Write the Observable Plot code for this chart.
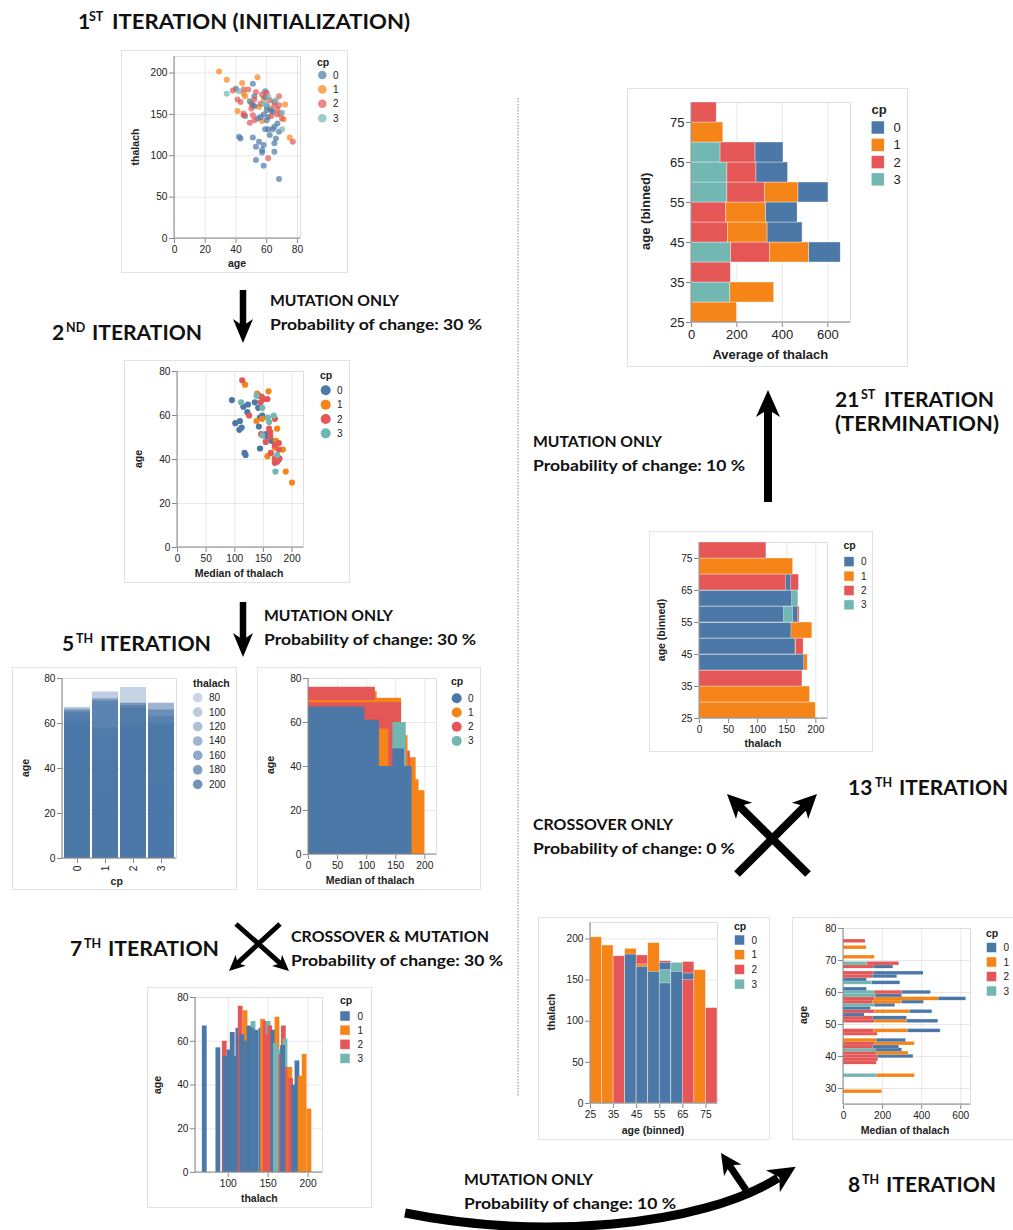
<!DOCTYPE html>
<html>
<head>
<meta charset="utf-8">
<script src="https://cdn.jsdelivr.net/npm/d3@7"></script>
<script src="https://cdn.jsdelivr.net/npm/@observablehq/plot@0.6"></script>
<style>
  html, body { margin: 0; padding: 0; background: #fff; }
  #root { position: relative; width: 1013px; height: 1230px; overflow: hidden; background: #fff; }
  .panel { position: absolute; box-sizing: border-box; border: 1px solid #e2e2e2; background: #fff; }
  g[aria-label$="-axis tick"] { stroke: #888; }
  g[aria-label="x-axis"] .tick line, g[aria-label="y-axis"] .tick line { stroke: #888; }
</style>
</head>
<body>
<div id="root"></div>
<script>
// ---------- shared categories ----------
const CP = ["0", "1", "2", "3"];
const CP_COLORS = ["#4c78a8", "#f58518", "#e45756", "#72b7b2"];
const BIN = 5;

// ---------- 1st iteration: age vs thalach scatter ----------
const it1Age = [29,34,54,44,45,46,41,55,58,57,62,50,72,71,75,
  51,40,49,51,52,46,54,56,59,60,58,60,59,61,65,64,67,68,66,62,65,55,53,57,57,58,51,42,43,53,58,65,68,65,63,64,60,61,52,59,
  38,41,48,45,53,52,43,45,45,49,51,52,57,61,68,68,65,67,69,70,77,62,56,67,63,50,60,
  34,42,61,58,60,70,66,70];
const it1Thalach = [202,192,195,188,175,172,154,159,169,142,157,163,162,144,122,
  187,181,166,161,160,148,145,147,171,155,150,143,132,132,135,132,139,129,121,125,115,117,111,107,104,113,122,123,121,95,88,105,72,165,155,153,160,147,172,178,
  179,168,180,180,177,168,165,151,149,140,149,143,174,97,172,161,161,156,151,145,117,167,163,150,148,157,176,
  175,178,171,163,162,132,167,152];
const it1Cp = [1,1,1,1,1,1,1,1,1,1,1,1,1,1,1,
  0,0,0,0,0,0,0,0,0,0,0,0,0,0,0,0,0,0,0,0,0,0,0,0,0,0,0,0,0,0,0,0,0,0,0,0,0,0,0,0,
  2,2,2,2,2,2,2,2,2,2,2,2,2,2,2,2,2,2,2,2,2,2,2,2,2,2,2,
  3,3,3,3,3,3,3,3];
const it1AgeTicks = [0, 20, 40, 60, 80];
const it1ThalachTicks = [0, 50, 100, 150, 200];

// ---------- 2nd iteration: median thalach vs age ----------
const it2Thalach = [95,123,115,122,135,101,109,112,108,117,119,144,141,144,142,148,155,158,161,151,164,177,
  118,139,159,138,148,174,172,170,184,157,189,200,
  113,125,142,147,150,145,157,170,160,162,146,154,162,177,170,177,163,170,174,178,170,
  111,138,148,158,160,168,148,174,171];
const it2Age = [67,65,64,61.5,66,56.5,57.5,54.5,53.5,43,42,45,63.5,59,55,60,51.5,50.5,52,51,48.5,40,
  74,70,71,57.5,58.5,54,48.5,45.5,44.5,41.5,34.5,29.5,
  76,60,69,68.5,67.5,66,67.5,58.5,54,52.5,51.5,48,50.5,47.5,46.5,44.5,43,40.5,39,40.5,38.5,
  66,69,63.5,59,57,60,51,42,34.5];
const it2Cp = [0,0,0,0,0,0,0,0,0,0,0,0,0,0,0,0,0,0,0,0,0,0,
  1,1,1,1,1,1,1,1,1,1,1,1,
  2,2,2,2,2,2,2,2,2,2,2,2,2,2,2,2,2,2,2,2,2,
  3,3,3,3,3,3,3,3,3];
const it2ThalachTicks = [0, 50, 100, 150, 200];
const it2AgeTicks = [0, 20, 40, 60, 80];

// ---------- 5th iteration (left): age by cp, opacity by thalach ----------
const it5aCp = [0,0,0,0,0,0,0,0, 1,1,1,1,1,1,1, 2,2,2,2,2,2,2, 3,3,3,3,3,3];
const it5aAge = [67,66,65,63,61,58,55,45, 74,71,70,58,54,44,29, 76,69,68,67,60,58,41, 69,66,63,60,59,34];
const it5aThalach = [125,160,175,150,190,140,170,180, 95,140,175,150,180,190,200, 85,165,150,170,160,180,175, 140,160,150,170,180,175];
const it5aLegendThalach = [80, 100, 120, 140, 160, 180, 200];
const it5aAgeTicks = [0, 20, 40, 60, 80];

// ---------- 5th iteration (right): median thalach vs age, filled from origin ----------
const it5bThalach = [200,190,185,175,171,160,118,115,147,160,168,165,145,138,178,122,97];
const it5bAge =     [29, 34, 44, 47, 54, 71, 74, 76, 70, 69, 60, 48, 61, 57, 40, 61, 67];
const it5bCp =      [1,  1,  1,  2,  1,  1,  1,  2,  1,  2,  3,  0,  2,  1,  0,  0,  0];
const it5bThalachTicks = [0, 50, 100, 150, 200];
const it5bAgeTicks = [0, 20, 40, 60, 80];

// ---------- 7th iteration: thalach vs age bars ----------
const it7Thalach = [70,87,95,96,101,105,109,112,115,121,117,123,126,131,129,135,141,143,146,150,152,148,156,161,159,163,166,169,171,168,174,177,178,182,186,190,195,201];
const it7Age =     [67,57,60,53,56, 64, 53, 66, 76, 74, 63, 60, 67, 69, 66, 65, 66, 70, 69, 69, 67, 63, 65, 71, 59, 56, 54, 67, 61, 58, 48, 48, 43, 40, 51, 44, 54, 29];
const it7Cp =      [0, 0, 2, 0, 0,  0,  0,  0,  2,  1,  0,  0,  0,  3,  0,  0,  0,  1,  2,  3,  2,  2,  0,  1,  3,  3,  2,  2,  3,  0,  2,  1,  2,  0,  0,  1,  1,  1];
const it7ThalachTicks = [100, 150, 200];
const it7AgeTicks = [0, 20, 40, 60, 80];

// ---------- 8th iteration (left): thalach by age bin ----------
const it8aBin =     [25, 30, 35, 40, 40, 45, 45, 45, 50, 50, 55, 55, 55, 55, 60, 60, 65, 65, 65, 70, 75];
const it8aThalach = [202,192,179,188,181,180,169,166,195,160,173,171,162,146,171,160,172,158,150,162,116];
const it8aCp =      [1,  1,  2,  1,  0,  2,  1,  0,  1,  0,  2,  0,  3,  0,  3,  0,  2,  0,  2,  1,  2];
const it8aBinTicks = [25, 35, 45, 55, 65, 75];
const it8aThalachTicks = [0, 50, 100, 150, 200];

// ---------- 8th iteration (right): median thalach per age, stacked by cp ----------
const it8bAge =    [29, 34,34, 38, 39, 40,40, 41,41, 42,42, 43,43, 44,44, 45,45, 47, 48,48,48, 51,51,51, 52,52, 53, 54,54,54, 55, 56,56, 57,57,57, 58,58,58, 59,59, 60,60,60, 61, 63,63, 64, 65,65, 66,66, 68,68, 69,69, 71, 74, 76];
const it8bCp =     [1,  3,1,  2,  2,  2,0,  2,1,  3,0,  2,0,  2,1,  1,0,  2,  2,1,0,  2,1,0,  2,0,  0,  2,1,0,  0,  3,0,  2,1,0,  2,1,0,  3,0,  3,2,0,  0,  3,0,  0,  2,0,  2,0,  2,0,  3,2,  1,  1,  2];
const it8bMedian = [198,170,195,170,178,175,183,170,163,165,135,150,135,160,205,170,150,175,155,175,167,160,165,160,150,175,108,160,180,115,140,160,105,150,150,112,160,327,141,165,135,160,140,147,120,147,144,120,150,125,155,255,155,100,122,163,160,118,113];
const it8bMedianTicks = [0, 200, 400, 600];
const it8bAgeTicks = [30, 40, 50, 60, 70, 80];

// ---------- 13th iteration: thalach by age bin (horizontal) ----------
const it13Bin =     [25, 30, 35, 40, 40, 45, 45, 45, 50, 50, 55, 55, 55, 55, 60, 60, 65, 65, 65, 70, 75];
const it13Thalach = [200,190,177,186,180,179,166,165,194,158,172,169,161,145,170,159,171,157,149,161,115];
const it13Cp =      [1,  1,  2,  1,  0,  2,  1,  0,  1,  0,  2,  0,  3,  0,  3,  0,  2,  0,  2,  1,  2];
const it13ThalachTicks = [0, 50, 100, 150, 200];
const it13BinTicks = [25, 35, 45, 55, 65, 75];

// ---------- 21st iteration: average thalach by age bin, stacked ----------
const it21Bin =     [25, 30,30, 35, 40,40,40,40, 45,45,45, 50,50,50, 55,55,55,55, 60,60,60, 65,65,65, 70, 75];
const it21Cp =      [1,  3,1,   2,  3,2,1,0,     2,1,0,    2,1,0,    3,2,1,0,     3,2,0,    3,2,0,    1,  2];
const it21Average = [200,171,193,173,174,171,173,139,160,175,154,153,175,139,158,165,148,132,158,128,139,128,154,123,140,111];
const it21AverageTicks = [0, 200, 400, 600];
const it21BinTicks = [25, 35, 45, 55, 65, 75];

// ---------- helpers ----------
const root = document.getElementById("root");
const FONT = '"Liberation Sans", Arial, Helvetica, sans-serif';
const COLOR = {domain: CP, range: CP_COLORS};
const AX = {tickSize: 5, tickPadding: 2, label: null};
const OP_DOMAIN = [80, 200], OP_RANGE = [0.3, 0.8];
const cpStr = (v) => String(v);

function zip(cols) {
  const keys = Object.keys(cols);
  return cols[keys[0]].map((_, i) => Object.fromEntries(keys.map(k => [k, cols[k][i]])));
}

const it1Rows = zip({age: it1Age, thalach: it1Thalach, cp: it1Cp.map(cpStr)});
const it2Rows = zip({thalach: it2Thalach, age: it2Age, cp: it2Cp.map(cpStr)});
const it5aRows = zip({cp: it5aCp.map(cpStr), age: it5aAge, thalach: it5aThalach});
const it5bRows = zip({thalach: it5bThalach, age: it5bAge, cp: it5bCp.map(cpStr)});
const it7Rows = zip({thalach: it7Thalach, age: it7Age, cp: it7Cp.map(cpStr)});
const it8aRows = zip({bin: it8aBin, thalach: it8aThalach, cp: it8aCp.map(cpStr)});
const it8bRows = zip({age: it8bAge, cp: it8bCp.map(cpStr), median: it8bMedian});
const it13Rows = zip({bin: it13Bin, thalach: it13Thalach, cp: it13Cp.map(cpStr)});
const it21Rows = zip({bin: it21Bin, cp: it21Cp.map(cpStr), average: it21Average});

// layout: plot frames (page pixels) and panel boxes
const F = {
  c1: {L: 174, R: 300, T: 56, B: 238},
  c2: {L: 177, R: 303, T: 371, B: 547},
  c3: {L: 62, R: 176, T: 678, B: 858},
  c4: {L: 308, R: 436, T: 678, B: 854},
  c5: {L: 195, R: 322, T: 997, B: 1172},
  c6: {L: 590, R: 717, T: 922, B: 1103},
  c7: {L: 843, R: 970, T: 928, B: 1104},
  c8: {L: 699, R: 827, T: 542, B: 718},
  c9: {L: 691, R: 850, T: 102, B: 322}
};
const PANELS = [
  [121, 50, 227, 223], [124, 360, 226, 223], [12, 667, 225, 223], [257, 667, 224, 223],
  [147, 987, 225, 221], [538, 917, 232, 223], [792, 917, 240, 223], [649, 531, 224, 221], [627, 88, 281, 279]
];
for (const [x, y, w, h] of PANELS) {
  const d = document.createElement("div");
  d.className = "panel";
  Object.assign(d.style, {left: x + "px", top: y + "px", width: w + "px", height: h + "px"});
  root.appendChild(d);
}

function chart(frame, opts, fs = 10.2) {
  const m = {l: 40, r: 8, t: 8, b: 28};
  const svg = Plot.plot({
    width: frame.R - frame.L + m.l + m.r,
    height: frame.B - frame.T + m.t + m.b,
    marginLeft: m.l, marginRight: m.r, marginTop: m.t, marginBottom: m.b,
    style: {fontFamily: FONT, fontSize: fs + "px", color: "#222", background: "none", overflow: "visible"},
    ...opts
  });
  svg.style.position = "absolute";
  svg.style.left = (frame.L - m.l) + "px";
  svg.style.top = (frame.T - m.t) + "px";
  svg.style.maxWidth = "none";
  root.appendChild(svg);
}
const FRAME = () => Plot.frame({stroke: "#ddd"});
const BAR_STROKE = {stroke: "#fff", strokeWidth: 0.6, strokeOpacity: 0.6};

// 1st
chart(F.c1, {
  x: {domain: [0, 82], ticks: it1AgeTicks, grid: true, ...AX},
  y: {domain: [0, 220], ticks: it1ThalachTicks, grid: true, ...AX},
  color: COLOR,
  marks: [FRAME(), Plot.dot(it1Rows, {x: "age", y: "thalach", fill: "cp", r: 3, fillOpacity: 0.7})]
});
// 2nd
chart(F.c2, {
  x: {domain: [0, 220], ticks: it2ThalachTicks, grid: true, ...AX},
  y: {domain: [0, 80], ticks: it2AgeTicks, grid: true, ...AX},
  color: COLOR,
  marks: [FRAME(), Plot.dot(it2Rows, {x: "thalach", y: "age", fill: "cp", r: 3.1})]
});
// 5th left
chart(F.c3, {
  x: {type: "band", domain: CP, paddingInner: 0.07, paddingOuter: 0.035, tickRotate: -90, ...AX},
  y: {domain: [0, 80], ticks: it5aAgeTicks, grid: true, ...AX},
  opacity: {domain: OP_DOMAIN, range: OP_RANGE},
  marks: [FRAME(), Plot.barY(it5aRows, {x: "cp", y1: () => 0, y2: "age", fill: CP_COLORS[0], fillOpacity: "thalach"})]
});
// 5th right
chart(F.c4, {
  x: {domain: [0, 220], ticks: it5bThalachTicks, grid: true, ...AX},
  y: {domain: [0, 80], ticks: it5bAgeTicks, grid: true, ...AX},
  color: COLOR,
  marks: [FRAME(), Plot.rect(it5bRows, {x1: () => 0, x2: "thalach", y1: () => 0, y2: "age", fill: "cp"})]
});
// 7th
chart(F.c5, {
  x: {domain: [59, 218], ticks: it7ThalachTicks, grid: true, ...AX},
  y: {domain: [0, 80], ticks: it7AgeTicks, grid: true, ...AX},
  color: COLOR,
  marks: [FRAME(), Plot.ruleX(it7Rows, {x: "thalach", y1: () => 0, y2: "age", stroke: "cp", strokeWidth: 4.8})]
});
// 8th left
chart(F.c6, {
  x: {domain: [25, 80], ticks: it8aBinTicks, ...AX},
  y: {domain: [0, 220], ticks: it8aThalachTicks, grid: true, ...AX},
  color: COLOR,
  marks: [FRAME(), Plot.rect(it8aRows, {x1: "bin", x2: d => d.bin + BIN, y1: () => 0, y2: "thalach", fill: "cp", ...BAR_STROKE})]
});
// 8th right
chart(F.c7, {
  x: {domain: [0, 650], ticks: it8bMedianTicks, grid: true, ...AX},
  y: {domain: [25, 80], ticks: it8bAgeTicks, grid: true, ...AX},
  color: COLOR,
  marks: [FRAME(), Plot.rectX(it8bRows, {x: "median", y1: d => d.age - 0.55, y2: d => d.age + 0.55, fill: "cp", stroke: "#fff", strokeWidth: 0.3, strokeOpacity: 0.5})]
});
// 13th
chart(F.c8, {
  x: {domain: [0, 220], ticks: it13ThalachTicks, grid: true, ...AX},
  y: {domain: [25, 80], ticks: it13BinTicks, ...AX},
  color: COLOR,
  marks: [FRAME(), Plot.rect(it13Rows, {y1: "bin", y2: d => d.bin + BIN, x1: () => 0, x2: "thalach", fill: "cp", ...BAR_STROKE})]
});
// 21st
chart(F.c9, {
  x: {domain: [0, 700], ticks: it21AverageTicks, grid: true, ...AX},
  y: {domain: [25, 80], ticks: it21BinTicks, ...AX},
  color: COLOR,
  marks: [FRAME(), Plot.rectX(it21Rows, {x: "average", y1: "bin", y2: d => d.bin + BIN, fill: "cp", ...BAR_STROKE})]
}, 13);

// ---------- overlay: axis titles, legends, headings, arrows ----------
const ov = d3.select(root).append("svg")
  .attr("width", 1013).attr("height", 1230)
  .style("position", "absolute").style("left", "0px").style("top", "0px")
  .style("font-family", FONT);

function txt(g, s, x, y, attrs = {}) {
  const t = g.append("text").attr("x", x).attr("y", y).text(s);
  for (const [k, v] of Object.entries(attrs)) t.attr(k, v);
  return t;
}

// axis domain lines
for (const f of Object.values(F)) {
  ov.append("path").attr("d", `M${f.L},${f.T}V${f.B}H${f.R}`).attr("fill", "none").attr("stroke", "#888").attr("stroke-width", 1);
}

// axis titles: [label, cx, cy, rotated, size]
const AXIS_TITLES = [
  ["age", 237, 267, false, 10.5], ["thalach", 135, 147, true, 10.5],
  ["Median of thalach", 239, 576.5, false, 10.5], ["age", 137.5, 459, true, 10.5],
  ["cp", 116.7, 884.5, false, 10.5], ["age", 25, 768, true, 10.5],
  ["Median of thalach", 370, 883.5, false, 10.5], ["age", 270, 765, true, 10.5],
  ["thalach", 259.3, 1201.8, false, 10.5], ["age", 157.3, 1085, true, 10.5],
  ["age (binned)", 653, 1133.5, false, 10.5], ["thalach", 551.3, 1012, true, 10.5],
  ["Median of thalach", 905, 1133.5, false, 10.5], ["age", 803.3, 1015, true, 10.5],
  ["thalach", 763, 746.8, false, 10.5], ["age (binned)", 661.3, 630, true, 10.5],
  ["Average of thalach", 770.3, 359, false, 13], ["age (binned)", 645.3, 211.3, true, 13]
];
for (const [s, x, y, rot, size] of AXIS_TITLES) {
  const t = txt(ov, s, rot ? 0 : x, rot ? 0 : y, {"font-weight": "bold", "font-size": size, "text-anchor": "middle", "fill": "#222"});
  if (rot) t.attr("transform", `translate(${x},${y}) rotate(-90)`).attr("dominant-baseline", "central");
}

// legends
function legend(cfg) {
  const {title, tx, ty, labels, colors, opacities, shape, cx, cy0, step, size, lx, fs, tfs} = cfg;
  txt(ov, title, tx, ty, {"font-weight": "bold", "font-size": tfs, "fill": "#222"});
  labels.forEach((lab, i) => {
    const cy = cy0 + i * step;
    if (shape === "circle") {
      ov.append("circle").attr("cx", cx).attr("cy", cy).attr("r", size / 2)
        .attr("fill", colors[i]).attr("fill-opacity", opacities ? opacities[i] : 1);
    } else {
      ov.append("rect").attr("x", cx - size / 2).attr("y", cy - size / 2).attr("width", size).attr("height", size)
        .attr("fill", colors[i]).attr("stroke", "#fff").attr("stroke-width", 0.5);
    }
    txt(ov, lab, lx, cy, {"font-size": fs, "dominant-baseline": "central", "fill": "#222"});
  });
}
const opScale = d3.scaleLinear(OP_DOMAIN, OP_RANGE);
legend({title: "cp", tx: 317, ty: 66, labels: CP, colors: CP_COLORS, opacities: CP.map(() => 0.7), shape: "circle", cx: 322.3, cy0: 75, step: 14.4, size: 8.6, lx: 333, fs: 10, tfs: 10.5});
legend({title: "cp", tx: 320, ty: 378.5, labels: CP, colors: CP_COLORS, shape: "circle", cx: 325.7, cy0: 390.3, step: 14.35, size: 10, lx: 337, fs: 10, tfs: 10.5});
legend({title: "thalach", tx: 193, ty: 686.5, labels: it5aLegendThalach.map(String), colors: it5aLegendThalach.map(() => CP_COLORS[0]), opacities: it5aLegendThalach.map(v => opScale(v)), shape: "circle", cx: 197.7, cy0: 697.7, step: 14.43, size: 9.6, lx: 209, fs: 10, tfs: 10.5});
legend({title: "cp", tx: 451, ty: 685, labels: CP, colors: CP_COLORS, shape: "circle", cx: 456.7, cy0: 698.3, step: 14.2, size: 10, lx: 468, fs: 10, tfs: 10.5});
legend({title: "cp", tx: 340, ty: 1004, labels: CP, colors: CP_COLORS, shape: "rect", cx: 345, cy0: 1016, step: 14.1, size: 10, lx: 357.5, fs: 10, tfs: 10.5});
legend({title: "cp", tx: 734, ty: 930, labels: CP, colors: CP_COLORS, shape: "rect", cx: 739.5, cy0: 940, step: 14.7, size: 10, lx: 751.5, fs: 10, tfs: 10.5});
legend({title: "cp", tx: 986, ty: 937, labels: CP, colors: CP_COLORS, shape: "rect", cx: 991.5, cy0: 947.5, step: 14.5, size: 10, lx: 1003.5, fs: 10, tfs: 10.5});
legend({title: "cp", tx: 843.5, ty: 548.5, labels: CP, colors: CP_COLORS, shape: "rect", cx: 849, cy0: 561.7, step: 14.4, size: 10, lx: 861, fs: 10, tfs: 10.5});
legend({title: "cp", tx: 871.5, ty: 114, labels: CP, colors: CP_COLORS, shape: "rect", cx: 877.7, cy0: 127.5, step: 17.3, size: 13, lx: 893.5, fs: 13, tfs: 13});

// headings
const HEAD_FONT = "Lato, 'Open Sans', sans-serif";
const HEADINGS = [
  {y: 29, parts: [["1", 78], ["ST", 89, true], ["ITERATION (INITIALIZATION)", 112, false, 298]]},
  {y: 340, parts: [["2", 52], ["ND", 66, true], ["ITERATION", 92, false, 110]]},
  {y: 651, parts: [["5", 62], ["TH", 76, true], ["ITERATION", 100, false, 111]]},
  {y: 956, parts: [["7", 70], ["TH", 84, true], ["ITERATION", 108, false, 111]]},
  {y: 795, parts: [["13", 848], ["TH", 875, true], ["ITERATION", 899, false, 109]]},
  {y: 1192, parts: [["8", 848], ["TH", 862, true], ["ITERATION", 886, false, 110]]},
  {y: 407, parts: [["21", 835], ["ST", 861, true], ["ITERATION", 884, false, 110]]},
  {y: 431, parts: [["(TERMINATION)", 835, false, 164]]}
];
for (const h of HEADINGS) {
  for (const [s, x, sup, len] of h.parts) {
    const t = txt(ov, s, x, sup ? h.y - 8 : h.y, {"font-family": HEAD_FONT, "font-weight": 700, "font-size": sup ? 12.5 : 21, "fill": "#111"});
    if (len) t.attr("textLength", len).attr("lengthAdjust", "spacingAndGlyphs");
  }
}

// annotations
const NOTE_WIDTH = {"MUTATION ONLY": 129, "Probability of change: 30 %": 212, "Probability of change: 10 %": 212,
  "CROSSOVER & MUTATION": 198, "CROSSOVER ONLY": 140, "Probability of change: 0 %": 202};
const NOTES = [
  {x: 270, y: 306, lines: ["MUTATION ONLY", "Probability of change: 30 %"]},
  {x: 264, y: 621, lines: ["MUTATION ONLY", "Probability of change: 30 %"]},
  {x: 291, y: 942, lines: ["CROSSOVER & MUTATION", "Probability of change: 30 %"]},
  {x: 533, y: 447, lines: ["MUTATION ONLY", "Probability of change: 10 %"]},
  {x: 533, y: 830, lines: ["CROSSOVER ONLY", "Probability of change: 0 %"]},
  {x: 464, y: 1185, lines: ["MUTATION ONLY", "Probability of change: 10 %"]}
];
for (const n of NOTES) {
  n.lines.forEach((s, i) => {
    txt(ov, s, n.x, n.y + i * 24, {"font-family": HEAD_FONT, "font-weight": 700, "font-size": 15.5, "fill": "#111",
      "textLength": NOTE_WIDTH[s], "lengthAdjust": "spacingAndGlyphs"});
  });
}

// dotted separator
ov.append("line").attr("x1", 518).attr("x2", 518).attr("y1", 98).attr("y2", 1097)
  .attr("stroke", "#9a9a9a").attr("stroke-width", 1.2).attr("stroke-dasharray", "1.5 1.5");

// arrows
function arrowHead(tx, ty, ux, uy, hl, hw) {
  const bx = tx - ux * hl, by = ty - uy * hl, px = -uy, py = ux;
  const nx = tx - ux * hl * 0.72, ny = ty - uy * hl * 0.72;
  ov.append("path").attr("d", `M${tx},${ty}L${bx + px * hw / 2},${by + py * hw / 2}L${nx},${ny}L${bx - px * hw / 2},${by - py * hw / 2}Z`).attr("fill", "#000");
  return [nx, ny];
}
function arrow(x1, y1, x2, y2, sw, hl, hw) {
  const len = Math.hypot(x2 - x1, y2 - y1), ux = (x2 - x1) / len, uy = (y2 - y1) / len;
  const [nx, ny] = arrowHead(x2, y2, ux, uy, hl, hw);
  ov.append("line").attr("x1", x1).attr("y1", y1).attr("x2", nx + ux).attr("y2", ny + uy)
    .attr("stroke", "#000").attr("stroke-width", sw);
}
arrow(243, 290, 243, 343, 6.5, 24, 20);
arrow(243, 602, 243, 657, 6.5, 24, 20);
arrow(768, 502, 768, 390, 8, 27, 24);
arrow(236, 924, 289, 971, 5, 16, 15);
arrow(280, 924, 229, 971, 5, 16, 15);
arrow(808, 874, 727, 794, 8, 24, 23);
arrow(737, 874, 817, 794, 8, 24, 23);
arrow(746, 1190, 721, 1153, 7, 21, 21);
// curved arrow at the bottom
{
  const P0 = [405, 1213], P1 = [540, 1240], P2 = [700, 1227], P3 = [778, 1178];
  ov.append("path").attr("d", `M${P0}C${P1} ${P2} ${P3}`).attr("fill", "none").attr("stroke", "#000").attr("stroke-width", 9);
  const dx = P3[0] - P2[0], dy = P3[1] - P2[1], l = Math.hypot(dx, dy);
  arrowHead(P3[0] + dx / l * 21, P3[1] + dy / l * 21, dx / l, dy / l, 27, 26);
}
</script>
</body>
</html>
